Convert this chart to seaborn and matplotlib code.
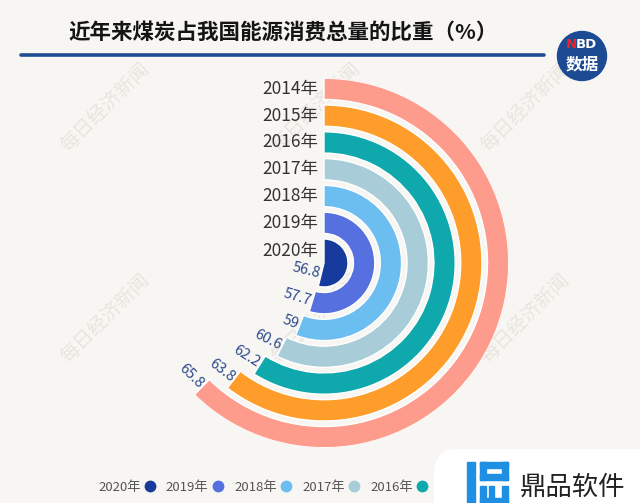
import numpy as np
import matplotlib
matplotlib.use("Agg")
import matplotlib.pyplot as plt
import seaborn as sns
from matplotlib.transforms import Affine2D
from matplotlib.patches import Circle, FancyBboxPatch, Rectangle
from matplotlib.lines import Line2D

# ---------------- data ----------------
years = ["2014年", "2015年", "2016年", "2017年", "2018年", "2019年", "2020年"]
values = [65.8, 63.8, 62.2, 60.6, 59, 57.7, 56.8]
colors = ["#FD9B8C", "#FE9D2A", "#0FA8AC", "#A9CDD8", "#6CBDF0", "#5670E0", "#173B9C"]
legend_years = ["2020年", "2019年", "2018年", "2017年", "2016年"]
title = "近年来煤炭占我国能源消费总量的比重（%）"
angle_max = 105.5  # value that would make a full circle

# ---------------- style ----------------
sns.set_theme(style="white")
BG = "#F8F6F2"
plt.rcParams["font.family"] = ["Noto Sans CJK SC", "DejaVu Sans"]
palette = sns.color_palette(colors)

W, H = 640, 503
fig = plt.figure(figsize=(W / 100, H / 100), dpi=100, facecolor=BG)
T = Affine2D().scale(1 / W, -1 / H).translate(0, 1) + fig.transFigure

# watermark text
for cy in (107, 318):
    for cx in (105, 316, 525):
        fig.text(cx, cy, "每日经济新闻", transform=T, rotation=45, ha="center", va="center",
                 fontsize=14, color="#E8E5E0", zorder=-5)

# ---------------- polar bars ----------------
cx, cy, R = 324, 263, 185
ax = fig.add_axes([(cx - R) / W, (H - cy - R) / H, 2 * R / W, 2 * R / H], projection="polar")
ax.set_theta_zero_location("N")
ax.set_theta_direction(-1)
ax.set_ylim(0, R)
ax.set_axis_off()

step, thick = 26.8, 21.3
n = len(values)
for i, (yr, v, c) in enumerate(zip(years, values, palette)):
    k = n - 1 - i  # 0 = innermost
    r_out = 24 + k * step
    r_in = 0 if k == 0 else r_out - thick
    theta = v / angle_max * 2 * np.pi
    ax.bar(0, r_out - r_in, width=theta, bottom=r_in, align="edge", color=c,
           edgecolor="white", linewidth=1.0)
    r_mid = (r_out + r_in) / 2
    ax.annotate(yr, xy=(0, r_mid), xytext=(-6, 0), textcoords="offset pixels",
                ha="right", va="center", fontsize=12.5, color="#333333")
    dth = 1.5 / max(r_mid, 1)
    deg = np.degrees(theta)
    ax.text(theta + dth, r_mid, f"{v:g}", rotation=180 - deg, rotation_mode="anchor",
            ha="right", va="center", fontsize=10.5, color="#2A4A8C")

# ---------------- title ----------------
fig.text(68, 32, title, transform=T, ha="left", va="center", fontsize=15.5,
         fontweight="bold", color="#151515")
fig.add_artist(Line2D([21, 544], [55, 55], transform=T, color="#1F4E93", lw=2.6))

# NBD logo
fig.add_artist(Circle((582, 56), 24.5, transform=T, color="#1C4A93", zorder=3))
fig.text(577, 45, "N", transform=T, ha="right", va="center", fontsize=9.5,
         fontweight="bold", color="#E8262A", family="DejaVu Sans", zorder=4)
fig.text(576, 45, "BD", transform=T, ha="left", va="center", fontsize=9.5,
         fontweight="bold", color="white", family="DejaVu Sans", zorder=4)
fig.text(582, 64, "数据", transform=T, ha="center", va="center", fontsize=12,
         fontweight="bold", color="white", zorder=4)

# ---------------- legend ----------------
handles = [Line2D([], [], marker="o", linestyle="none", markersize=8.5,
                  markerfacecolor=palette[years.index(y)], markeredgewidth=0)
           for y in legend_years]
fig.legend(handles, legend_years, ncol=len(legend_years), markerfirst=False, frameon=False,
           loc="center left", bbox_to_anchor=(98 / W, 1 - 487 / H),
           borderpad=0, borderaxespad=0, handletextpad=0.2, handlelength=1.0,
           columnspacing=0.73, fontsize=9.5, labelcolor="#555555")

# ---------------- bottom-right badge ----------------
fig.add_artist(FancyBboxPatch((434, 449), 260, 120, transform=T,
                              boxstyle="round,pad=0,rounding_size=24",
                              facecolor="white", edgecolor="none", zorder=10))
blue = "#1E8FE2"
for (x, y, w, h) in [(467, 462, 8, 42), (480, 462, 28, 6), (480, 462, 6, 18),
                     (502, 462, 6, 18), (480, 474, 28, 6),
                     (480, 486, 6, 18), (502, 486, 6, 18), (480, 498, 28, 6),
                     (489, 486, 5, 18)]:
    fig.add_artist(Rectangle((x, y), w, h, transform=T, color=blue, zorder=11))
fig.text(520, 487, "鼎品软件", transform=T, ha="left", va="center", fontsize=19,
         color="#222222", zorder=11)

fig.savefig("out.png", dpi=100, facecolor=BG)
